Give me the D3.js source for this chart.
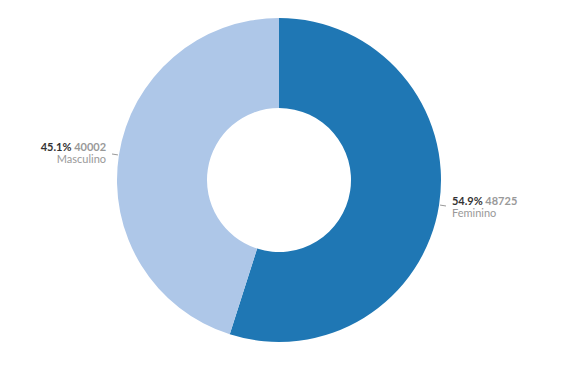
<!DOCTYPE html>
<html>
<head>
<meta charset="utf-8">
<script src="https://cdn.jsdelivr.net/npm/d3@7"></script>
<style>
  body { margin: 0; background: #fff; }
  text { font-family: Lato, sans-serif; }
</style>
</head>
<body>
<div id="chart"></div>
<script>
// Data
const categories = ['Feminino', 'Masculino'];
const values = [48725, 40002];
const colors = ['#1f77b4', '#aec7e8'];

const width = 562, height = 371;
const cx = 279, cy = 180;
const outerR = 162, innerR = 72;

const svg = d3.select('#chart')
    .append('svg')
    .attr('width', width)
    .attr('height', height)
    .append('g')
    .attr('transform', `translate(${cx},${cy})`);

const pieData = categories.map((c, i) => ({ name: c, value: values[i], color: colors[i] }));
const total = d3.sum(values);

const pie = d3.pie().value(d => d.value).sort(null);
const arcs = pie(pieData);

const arc = d3.arc().innerRadius(innerR).outerRadius(outerR);

svg.selectAll('path.slice')
    .data(arcs)
    .enter()
    .append('path')
    .attr('class', 'slice')
    .attr('d', arc)
    .attr('fill', d => d.data.color);

// Labels with short leader lines
const pointAt = (a, r) => [Math.sin(a) * r, -Math.cos(a) * r];

arcs.forEach(d => {
    const mid = (d.startAngle + d.endAngle) / 2;
    const right = Math.sin(mid) > 0;
    const p1 = pointAt(mid, outerR + 1);
    const p2 = pointAt(mid, outerR + 7);
    svg.append('line')
        .attr('x1', p1[0]).attr('y1', p1[1])
        .attr('x2', p2[0]).attr('y2', p2[1])
        .attr('stroke', '#999')
        .attr('stroke-width', 1);

    const lp = pointAt(mid, outerR + 13);
    const anchor = right ? 'start' : 'end';
    const pct = (d.data.value / total * 100).toFixed(1) + '%';

    const t = svg.append('text')
        .attr('x', lp[0])
        .attr('y', lp[1] - 2)
        .attr('text-anchor', anchor)
        .style('font-size', '11px');
    t.append('tspan')
        .style('font-weight', 'bold')
        .style('fill', '#333')
        .text(pct + ' ');
    t.append('tspan')
        .style('font-weight', 'bold')
        .style('fill', '#999')
        .text(d.data.value);

    svg.append('text')
        .attr('x', lp[0])
        .attr('y', lp[1] + 10)
        .attr('text-anchor', anchor)
        .style('font-size', '11px')
        .style('fill', '#999')
        .text(d.data.name);
});
</script>
</body>
</html>
